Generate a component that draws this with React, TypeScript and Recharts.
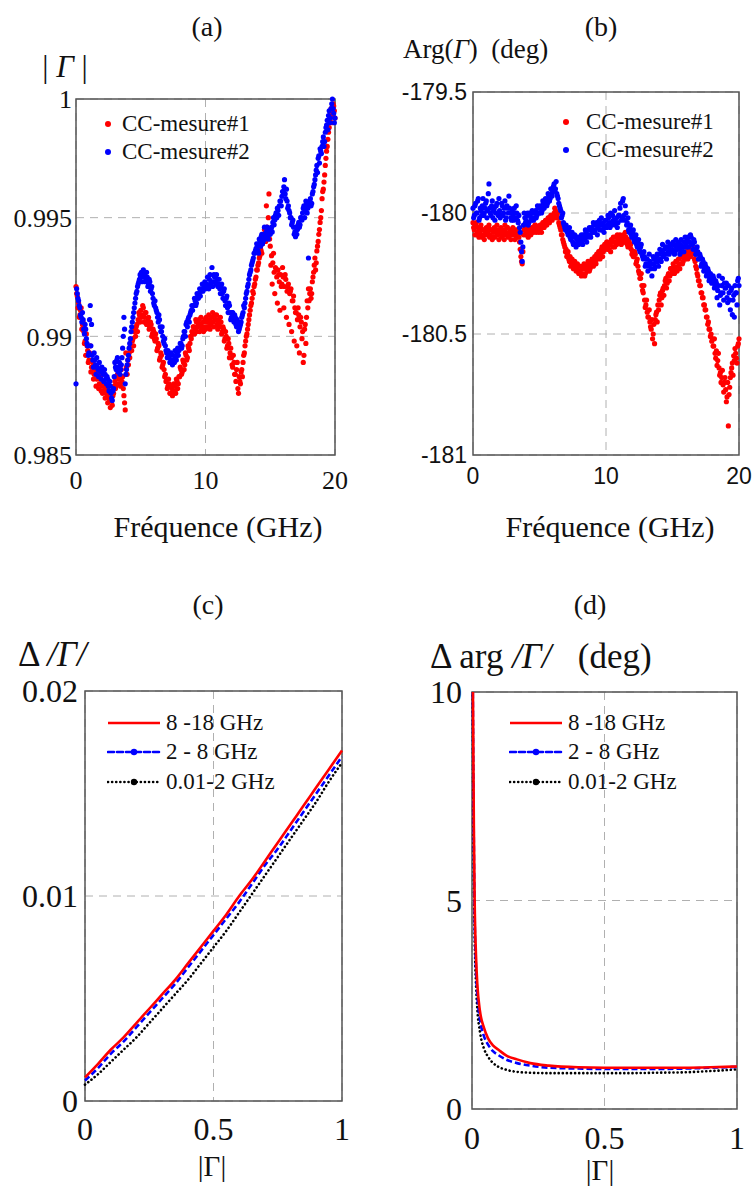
import React from 'react';
import {
  ScatterChart,
  Scatter,
  LineChart,
  Line,
  XAxis,
  YAxis,
  CartesianGrid,
  ReferenceArea,
} from 'recharts';

const SERIF = '"Liberation Serif", "DejaVu Serif", serif';
const SANS = '"Liberation Sans", Arial, sans-serif';

// (a) |Γ| mesuré, un point tous les 0.1 GHz (0 -> 20 GHz)
const magMesure1 = [
  0.9921, 0.9917, 0.9914, 0.9909, 0.9912, 0.9905, 0.9902, 0.9898, 0.9901, 0.9894,
  0.9890, 0.9896, 0.9887, 0.9889, 0.9884, 0.9887, 0.9882, 0.9885, 0.9880, 0.9883,
  0.9879, 0.9881, 0.9877, 0.9878, 0.9875, 0.9877, 0.9873, 0.9874, 0.9871, 0.9876,
  0.9881, 0.9879, 0.9884, 0.9882, 0.9880, 0.9886, 0.9883, 0.9875, 0.9869, 0.9887,
  0.9890, 0.9893, 0.9896, 0.9894, 0.9899, 0.9902, 0.9900, 0.9905, 0.9907, 0.9909,
  0.9911, 0.9909, 0.9912, 0.9908, 0.9910, 0.9906, 0.9908, 0.9904, 0.9905, 0.9901,
  0.9902, 0.9898, 0.9899, 0.9895, 0.9896, 0.9891, 0.9892, 0.9888, 0.9886, 0.9884,
  0.9882, 0.9879, 0.9880, 0.9876, 0.9878, 0.9877, 0.9879, 0.9876, 0.9881, 0.9880,
  0.9883, 0.9886, 0.9885, 0.9889, 0.9888, 0.9892, 0.9891, 0.9895, 0.9897, 0.9899,
  0.9901, 0.9904, 0.9903, 0.9906, 0.9904, 0.9907, 0.9905, 0.9903, 0.9906, 0.9904,
  0.9903, 0.9906, 0.9904, 0.9907, 0.9905, 0.9908, 0.9906, 0.9909, 0.9907, 0.9905,
  0.9907, 0.9904, 0.9906, 0.9902, 0.9903, 0.9899, 0.9900, 0.9896, 0.9897, 0.9893,
  0.9891, 0.9887, 0.9889, 0.9884, 0.9886, 0.9878, 0.9883, 0.9880, 0.9886, 0.9889,
  0.9893, 0.9898, 0.9901, 0.9905, 0.9909, 0.9913, 0.9916, 0.9918, 0.9922, 0.9925,
  0.9928, 0.9931, 0.9934, 0.9936, 0.9939, 0.9941, 0.9943, 0.9955, 0.9944, 0.9960,
  0.9938, 0.9934, 0.9931, 0.9927, 0.9929, 0.9925, 0.9928, 0.9923, 0.9926, 0.9922,
  0.9925, 0.9921, 0.9924, 0.9919, 0.9922, 0.9918, 0.9920, 0.9915, 0.9917, 0.9912,
  0.9910, 0.9907, 0.9909, 0.9904, 0.9906, 0.9902, 0.9892, 0.9905, 0.9908, 0.9912,
  0.9915, 0.9920, 0.9918, 0.9925, 0.9930, 0.9928, 0.9936, 0.9940, 0.9945, 0.9950,
  0.9958, 0.9962, 0.9968, 0.9975, 0.9980, 0.9986, 0.9991, 0.9996, 0.9993, 0.9997,
  0.9992,
];

// deuxième passage, décalé de 0.05 GHz (0.05 -> 19.95 GHz)
const magMesure1b = [
  0.9918, 0.9912, 0.9908, 0.9911, 0.9903, 0.9906, 0.9897, 0.9892, 0.9896, 0.9889,
  0.9893, 0.9885, 0.9890, 0.9882, 0.9886, 0.9879, 0.9884, 0.9878, 0.9882, 0.9877,
  0.9876, 0.9879, 0.9874, 0.9876, 0.9872, 0.9874, 0.9870, 0.9873, 0.9875, 0.9879,
  0.9878, 0.9883, 0.9880, 0.9884, 0.9879, 0.9881, 0.9878, 0.9872, 0.9893, 0.9884,
  0.9888, 0.9891, 0.9894, 0.9898, 0.9896, 0.9903, 0.9904, 0.9902, 0.9910, 0.9906,
  0.9908, 0.9913, 0.9906, 0.9910, 0.9905, 0.9907, 0.9903, 0.9906, 0.9900, 0.9903,
  0.9899, 0.9901, 0.9894, 0.9897, 0.9890, 0.9893, 0.9887, 0.9889, 0.9883, 0.9881,
  0.9878, 0.9882, 0.9876, 0.9879, 0.9875, 0.9880, 0.9877, 0.9882, 0.9878, 0.9883,
  0.9887, 0.9884, 0.9890, 0.9886, 0.9893, 0.9890, 0.9896, 0.9894, 0.9900, 0.9902,
  0.9904, 0.9901, 0.9907, 0.9902, 0.9905, 0.9902, 0.9908, 0.9904, 0.9902, 0.9907,
  0.9908, 0.9904, 0.9909, 0.9903, 0.9906, 0.9910, 0.9904, 0.9907, 0.9909, 0.9903,
  0.9905, 0.9908, 0.9901, 0.9904, 0.9898, 0.9902, 0.9895, 0.9899, 0.9891, 0.9895,
  0.9888, 0.9892, 0.9884, 0.9881, 0.9889, 0.9876, 0.9881, 0.9885, 0.9883, 0.9892,
  0.9896, 0.9900, 0.9903, 0.9907, 0.9911, 0.9914, 0.9919, 0.9921, 0.9924, 0.9928,
  0.9930, 0.9933, 0.9937, 0.9935, 0.9942, 0.9945, 0.9940, 0.9946, 0.9950, 0.9941,
  0.9930, 0.9922, 0.9935, 0.9918, 0.9928, 0.9914, 0.9926, 0.9911, 0.9921, 0.9929,
  0.9912, 0.9926, 0.9908, 0.9921, 0.9905, 0.9919, 0.9902, 0.9915, 0.9898, 0.9910,
  0.9896, 0.9912, 0.9893, 0.9908, 0.9899, 0.9889, 0.9903, 0.9897, 0.9915, 0.9920,
  0.9918, 0.9916, 0.9923, 0.9927, 0.9933, 0.9931, 0.9938, 0.9943, 0.9948, 0.9953,
  0.9961, 0.9965, 0.9972, 0.9978, 0.9983, 0.9988, 0.9994, 0.9990, 0.9998, 0.9995,
];

const magMesure2 = [
  0.9880, 0.9918, 0.9915, 0.9912, 0.9908, 0.9910, 0.9903, 0.9905, 0.9899, 0.9896,
  0.9893, 0.9913, 0.9905, 0.9890, 0.9893, 0.9888, 0.9891, 0.9886, 0.9889, 0.9885,
  0.9887, 0.9884, 0.9886, 0.9882, 0.9883, 0.9879, 0.9881, 0.9876, 0.9873, 0.9878,
  0.9889, 0.9886, 0.9891, 0.9887, 0.9884, 0.9888, 0.9895, 0.9908, 0.9880, 0.9886,
  0.9890, 0.9895, 0.9899, 0.9904, 0.9908, 0.9912, 0.9916, 0.9919, 0.9922, 0.9924,
  0.9925, 0.9923, 0.9928, 0.9926, 0.9924, 0.9925, 0.9922, 0.9923, 0.9920, 0.9918,
  0.9914, 0.9915, 0.9911, 0.9908, 0.9909, 0.9904, 0.9902, 0.9900, 0.9897, 0.9896,
  0.9893, 0.9894, 0.9891, 0.9889, 0.9890, 0.9892, 0.9889, 0.9891, 0.9893, 0.9892,
  0.9895, 0.9897, 0.9896, 0.9900, 0.9902, 0.9905, 0.9904, 0.9908, 0.9909, 0.9911,
  0.9911, 0.9913, 0.9915, 0.9914, 0.9917, 0.9918, 0.9917, 0.9920, 0.9919, 0.9921,
  0.9920, 0.9922, 0.9921, 0.9924, 0.9922, 0.9929, 0.9923, 0.9925, 0.9922, 0.9924,
  0.9922, 0.9920, 0.9921, 0.9918, 0.9919, 0.9915, 0.9916, 0.9912, 0.9914, 0.9910,
  0.9908, 0.9910, 0.9906, 0.9908, 0.9904, 0.9906, 0.9903, 0.9905, 0.9908, 0.9910,
  0.9912, 0.9916, 0.9919, 0.9922, 0.9926, 0.9928, 0.9931, 0.9933, 0.9935, 0.9937,
  0.9938, 0.9935, 0.9940, 0.9942, 0.9939, 0.9943, 0.9941, 0.9944, 0.9942, 0.9945,
  0.9943, 0.9946, 0.9948, 0.9947, 0.9951, 0.9950, 0.9953, 0.9955, 0.9957, 0.9959,
  0.9961, 0.9966, 0.9958, 0.9957, 0.9955, 0.9952, 0.9950, 0.9948, 0.9946, 0.9944,
  0.9946, 0.9945, 0.9948, 0.9947, 0.9950, 0.9952, 0.9955, 0.9953, 0.9956, 0.9954,
  0.9955, 0.9958, 0.9956, 0.9961, 0.9964, 0.9968, 0.9972, 0.9975, 0.9973, 0.9978,
  0.9980, 0.9984, 0.9982, 0.9988, 0.9991, 0.9993, 0.9990, 0.9996, 1.0000, 0.9994,
  0.9992,
];

const magMesure2b = [
  0.9920, 0.9916, 0.9913, 0.9909, 0.9906, 0.9907, 0.9901, 0.9903, 0.9897, 0.9892,
  0.9907, 0.9896, 0.9892, 0.9887, 0.9890, 0.9884, 0.9887, 0.9883, 0.9886, 0.9882,
  0.9885, 0.9881, 0.9884, 0.9880, 0.9882, 0.9877, 0.9879, 0.9874, 0.9877, 0.9883,
  0.9887, 0.9890, 0.9885, 0.9889, 0.9886, 0.9891, 0.9900, 0.9903, 0.9884, 0.9888,
  0.9892, 0.9897, 0.9902, 0.9906, 0.9910, 0.9914, 0.9918, 0.9921, 0.9923, 0.9926,
  0.9927, 0.9925, 0.9926, 0.9923, 0.9927, 0.9921, 0.9924, 0.9919, 0.9921, 0.9916,
  0.9913, 0.9912, 0.9910, 0.9906, 0.9907, 0.9902, 0.9904, 0.9898, 0.9899, 0.9894,
  0.9891, 0.9892, 0.9889, 0.9893, 0.9888, 0.9890, 0.9894, 0.9890, 0.9895, 0.9894,
  0.9897, 0.9895, 0.9899, 0.9902, 0.9900, 0.9906, 0.9907, 0.9906, 0.9910, 0.9913,
  0.9913, 0.9916, 0.9913, 0.9918, 0.9916, 0.9920, 0.9919, 0.9922, 0.9920, 0.9923,
  0.9922, 0.9925, 0.9920, 0.9926, 0.9923, 0.9921, 0.9926, 0.9923, 0.9926, 0.9921,
  0.9924, 0.9918, 0.9922, 0.9916, 0.9920, 0.9913, 0.9917, 0.9910, 0.9913, 0.9907,
  0.9910, 0.9907, 0.9909, 0.9905, 0.9907, 0.9902, 0.9904, 0.9906, 0.9909, 0.9913,
  0.9914, 0.9918, 0.9921, 0.9924, 0.9927, 0.9930, 0.9932, 0.9935, 0.9936, 0.9939,
  0.9936, 0.9941, 0.9938, 0.9943, 0.9940, 0.9946, 0.9943, 0.9946, 0.9941, 0.9944,
  0.9945, 0.9944, 0.9950, 0.9949, 0.9952, 0.9954, 0.9951, 0.9957, 0.9955, 0.9961,
  0.9963, 0.9960, 0.9962, 0.9954, 0.9953, 0.9950, 0.9947, 0.9949, 0.9943, 0.9942,
  0.9943, 0.9947, 0.9946, 0.9950, 0.9949, 0.9954, 0.9950, 0.9957, 0.9952, 0.9933,
  0.9957, 0.9955, 0.9960, 0.9963, 0.9966, 0.9970, 0.9969, 0.9976, 0.9979, 0.9977,
  0.9982, 0.9980, 0.9986, 0.9989, 0.9987, 0.9995, 0.9992, 0.9998, 0.9996, 0.9990,
];

// (b) Arg(Γ) en degrés, mêmes grilles de fréquences
const argMesure1 = [
  -180.04, -180.07, -180.05, -180.09, -180.06, -180.08, -180.05, -180.10, -180.07, -180.09,
  -180.06, -180.08, -180.05, -180.09, -180.07, -180.10, -180.06, -180.08, -180.05, -180.07,
  -180.08, -180.06, -180.09, -180.07, -180.05, -180.08, -180.06, -180.09, -180.07, -180.08,
  -180.06, -180.09, -180.07, -180.10, -180.08, -180.12, -180.18, -180.21, -180.09, -180.06,
  -180.08, -180.06, -180.09, -180.07, -180.08, -180.06, -180.07, -180.05, -180.07, -180.06,
  -180.07, -180.05, -180.06, -180.04, -180.05, -180.03, -180.04, -180.02, -180.03, -180.01,
  -180.02, -180.00, -179.99, -180.01, -180.02, -180.05, -180.07, -180.09, -180.12, -180.14,
  -180.15, -180.17, -180.19, -180.18, -180.21, -180.20, -180.22, -180.21, -180.23, -180.22,
  -180.24, -180.22, -180.25, -180.23, -180.26, -180.22, -180.24, -180.21, -180.23, -180.20,
  -180.21, -180.19, -180.20, -180.17, -180.18, -180.16, -180.17, -180.14, -180.16, -180.13,
  -180.14, -180.12, -180.15, -180.13, -180.11, -180.14, -180.12, -180.10, -180.13, -180.11,
  -180.12, -180.10, -180.11, -180.09, -180.12, -180.10, -180.13, -180.11, -180.14, -180.15,
  -180.16, -180.18, -180.17, -180.20, -180.22, -180.25, -180.27, -180.30, -180.33, -180.36,
  -180.38, -180.41, -180.43, -180.45, -180.48, -180.52, -180.46, -180.44, -180.41, -180.38,
  -180.36, -180.33, -180.35, -180.31, -180.30, -180.27, -180.29, -180.25, -180.26, -180.23,
  -180.24, -180.22, -180.23, -180.20, -180.22, -180.19, -180.21, -180.18, -180.20, -180.17,
  -180.18, -180.16, -180.17, -180.15, -180.16, -180.14, -180.17, -180.20, -180.23, -180.26,
  -180.28, -180.30, -180.33, -180.35, -180.38, -180.40, -180.43, -180.45, -180.48, -180.50,
  -180.52, -180.55, -180.58, -180.57, -180.61, -180.64, -180.66, -180.68, -180.71, -180.70,
  -180.73, -180.76, -180.88, -180.72, -180.66, -180.62, -180.59, -180.56, -180.60, -180.55,
  -180.52,
];

const argMesure1b = [
  -180.06, -180.09, -180.04, -180.08, -180.10, -180.06, -180.09, -180.07, -180.11, -180.08,
  -180.09, -180.06, -180.10, -180.07, -180.11, -180.08, -180.10, -180.07, -180.09, -180.11,
  -180.07, -180.10, -180.08, -180.11, -180.09, -180.06, -180.10, -180.08, -180.11, -180.09,
  -180.08, -180.11, -180.09, -180.07, -180.10, -180.15, -180.20, -180.16, -180.07, -180.09,
  -180.07, -180.10, -180.08, -180.09, -180.06, -180.08, -180.05, -180.08, -180.06, -180.08,
  -180.05, -180.08, -180.04, -180.06, -180.03, -180.05, -180.02, -180.04, -180.01, -180.03,
  -180.01, -179.98, -180.02, -180.00, -180.04, -180.06, -180.09, -180.11, -180.13, -180.16,
  -180.18, -180.16, -180.20, -180.22, -180.19, -180.23, -180.20, -180.24, -180.21, -180.25,
  -180.22, -180.26, -180.23, -180.21, -180.25, -180.23, -180.20, -180.24, -180.22, -180.19,
  -180.22, -180.18, -180.21, -180.19, -180.16, -180.19, -180.15, -180.18, -180.14, -180.15,
  -180.12, -180.15, -180.13, -180.16, -180.12, -180.10, -180.14, -180.12, -180.09, -180.12,
  -180.09, -180.13, -180.10, -180.12, -180.08, -180.11, -180.14, -180.12, -180.13, -180.17,
  -180.18, -180.16, -180.21, -180.19, -180.24, -180.27, -180.25, -180.32, -180.30, -180.39,
  -180.36, -180.43, -180.40, -180.47, -180.44, -180.50, -180.54, -180.42, -180.45, -180.40,
  -180.34, -180.38, -180.32, -180.34, -180.28, -180.31, -180.26, -180.28, -180.23, -180.25,
  -180.21, -180.25, -180.20, -180.24, -180.19, -180.23, -180.18, -180.21, -180.17, -180.19,
  -180.16, -180.19, -180.15, -180.18, -180.14, -180.16, -180.19, -180.22, -180.25, -180.28,
  -180.30, -180.33, -180.35, -180.38, -180.40, -180.43, -180.46, -180.48, -180.51, -180.53,
  -180.55, -180.52, -180.60, -180.63, -180.58, -180.67, -180.70, -180.65, -180.74, -180.68,
  -180.78, -180.70, -180.75, -180.68, -180.64, -180.67, -180.61, -180.58, -180.62, -180.54,
];

const argMesure2 = [
  -179.98, -180.01, -179.96, -180.00, -179.94, -180.02, -179.99, -179.97, -180.01, -179.98,
  -179.95, -179.99, -179.88, -180.00, -179.97, -180.02, -179.98, -180.00, -179.96, -180.01,
  -179.99, -180.01, -179.97, -180.00, -179.95, -180.02, -179.98, -179.93, -180.00, -180.03,
  -180.01, -179.98, -180.02, -180.00, -180.04, -180.06, -180.12, -180.20, -180.05, -180.02,
  -180.03, -180.00, -180.04, -180.01, -180.03, -180.00, -180.02, -179.99, -180.01, -179.98,
  -180.00, -179.98, -179.99, -179.96, -179.97, -179.95, -179.96, -179.93, -179.94, -179.92,
  -179.91, -179.88, -179.90, -179.92, -179.94, -179.97, -179.99, -180.01, -180.04, -180.06,
  -180.05, -180.08, -180.07, -180.10, -180.09, -180.12, -180.10, -180.13, -180.11, -180.12,
  -180.10, -180.12, -180.11, -180.09, -180.11, -180.08, -180.10, -180.07, -180.09, -180.06,
  -180.08, -180.05, -180.07, -180.04, -180.06, -180.03, -180.05, -180.07, -180.04, -180.06,
  -180.03, -180.05, -180.02, -180.06, -180.04, -180.01, -180.03, -180.05, -180.02, -180.04,
  -180.01, -179.96, -180.02, -179.94, -180.03, -180.00, -180.04, -180.07, -180.06, -180.09,
  -180.08, -180.11, -180.10, -180.13, -180.12, -180.15, -180.14, -180.17, -180.19, -180.18,
  -180.21, -180.19, -180.22, -180.20, -180.23, -180.21, -180.19, -180.22, -180.18, -180.20,
  -180.17, -180.19, -180.16, -180.18, -180.15, -180.17, -180.14, -180.16, -180.15, -180.13,
  -180.15, -180.13, -180.16, -180.14, -180.12, -180.15, -180.13, -180.16, -180.14, -180.12,
  -180.13, -180.11, -180.14, -180.12, -180.10, -180.13, -180.11, -180.15, -180.17, -180.16,
  -180.19, -180.18, -180.21, -180.20, -180.23, -180.22, -180.25, -180.24, -180.27, -180.26,
  -180.28, -180.27, -180.30, -180.29, -180.32, -180.26, -180.34, -180.30, -180.33, -180.29,
  -180.31, -180.35, -180.30, -180.36, -180.32, -180.42, -180.34, -180.30, -180.33, -180.28,
  -180.30,
];

const argMesure2b = [
  -180.02, -179.97, -180.00, -179.95, -180.03, -179.98, -180.01, -179.94, -180.00, -179.96,
  -180.02, -179.92, -179.98, -180.01, -179.95, -179.99, -180.03, -179.97, -180.00, -179.94,
  -180.02, -179.96, -180.01, -179.98, -180.03, -179.97, -180.00, -179.98, -180.02, -179.99,
  -180.03, -180.00, -179.97, -180.03, -180.01, -180.08, -180.16, -180.14, -180.00, -180.04,
  -180.01, -180.05, -180.00, -180.02, -179.99, -180.03, -180.00, -180.02, -179.97, -180.00,
  -179.97, -180.00, -179.95, -179.98, -179.94, -179.97, -179.92, -179.95, -179.90, -179.93,
  -179.89, -179.91, -179.87, -179.93, -179.96, -179.98, -180.02, -180.00, -180.05, -180.07,
  -180.07, -180.09, -180.06, -180.11, -180.08, -180.13, -180.09, -180.14, -180.10, -180.13,
  -180.11, -180.09, -180.13, -180.10, -180.07, -180.12, -180.09, -180.06, -180.10, -180.07,
  -180.04, -180.08, -180.05, -180.09, -180.04, -180.07, -180.02, -180.05, -180.08, -180.03,
  -180.06, -180.01, -180.04, -180.00, -180.05, -180.03, -179.99, -180.04, -180.06, -180.01,
  -179.98, -180.03, -179.95, -180.01, -179.97, -180.05, -180.02, -180.08, -180.05, -180.10,
  -180.07, -180.12, -180.09, -180.14, -180.11, -180.16, -180.13, -180.18, -180.16, -180.22,
  -180.19, -180.24, -180.17, -180.21, -180.26, -180.18, -180.23, -180.20, -180.17, -180.22,
  -180.15, -180.20, -180.13, -180.17, -180.14, -180.19, -180.12, -180.17, -180.13, -180.16,
  -180.12, -180.17, -180.11, -180.15, -180.13, -180.17, -180.11, -180.14, -180.16, -180.10,
  -180.14, -180.10, -180.12, -180.09, -180.13, -180.15, -180.12, -180.17, -180.14, -180.19,
  -180.17, -180.22, -180.19, -180.24, -180.21, -180.26, -180.23, -180.28, -180.25, -180.29,
  -180.26, -180.31, -180.28, -180.35, -180.30, -180.38, -180.33, -180.27, -180.36, -180.31,
  -180.29, -180.37, -180.33, -180.40, -180.31, -180.36, -180.43, -180.33, -180.38, -180.27,
];

const freqGHz = magMesure1.map((_, i) => i / 10);
const freqGHzB = magMesure1b.map((_, i) => i / 10 + 0.05);

// (c) Δ|Γ| en fonction de |Γ|
const gammaC = [0, 0.05, 0.1, 0.15, 0.2, 0.25, 0.3, 0.35, 0.4, 0.45, 0.5, 0.55, 0.6, 0.65, 0.7, 0.75, 0.8, 0.85, 0.9, 0.95, 1];
const dMag8to18 = [0.00115, 0.0018, 0.0025, 0.0031, 0.0038, 0.0045, 0.0052, 0.0059, 0.0067, 0.0075, 0.0083, 0.0091, 0.0100, 0.0108, 0.0117, 0.0126, 0.0135, 0.0144, 0.0153, 0.0162, 0.0171];
const dMag2to8 = [0.0010, 0.0016, 0.0023, 0.0029, 0.0036, 0.0043, 0.0050, 0.0057, 0.0065, 0.0073, 0.0081, 0.0089, 0.0097, 0.0106, 0.0115, 0.0123, 0.0132, 0.0141, 0.0150, 0.0159, 0.0168];
const dMag001to2 = [0.0008, 0.0013, 0.0019, 0.0025, 0.0031, 0.0038, 0.0045, 0.0052, 0.0059, 0.0067, 0.0075, 0.0083, 0.0092, 0.0101, 0.0110, 0.0119, 0.0128, 0.0137, 0.0146, 0.0156, 0.0165];

// (d) Δarg en degrés en fonction de |Γ|
const gammaD = [0.002, 0.004, 0.007, 0.01, 0.015, 0.02, 0.03, 0.045, 0.06, 0.08, 0.1, 0.13, 0.17, 0.22, 0.29, 0.4, 0.5, 0.6, 0.7, 0.8, 0.9, 1];
const dArg8to18 = [12, 9.6, 6.8, 5.0, 3.7, 3.0, 2.35, 1.95, 1.7, 1.52, 1.42, 1.28, 1.19, 1.10, 1.04, 1.0, 0.99, 0.99, 0.99, 0.99, 1.0, 1.02];
const dArg2to8 = [11.5, 9.0, 6.3, 4.6, 3.4, 2.75, 2.15, 1.75, 1.55, 1.38, 1.29, 1.18, 1.10, 1.04, 0.99, 0.97, 0.96, 0.96, 0.96, 0.97, 0.99, 1.01];
const dArg001to2 = [11, 8.2, 5.6, 4.1, 3.0, 2.4, 1.85, 1.45, 1.26, 1.10, 1.01, 0.94, 0.89, 0.87, 0.86, 0.86, 0.86, 0.86, 0.87, 0.88, 0.91, 0.95];

const pts = (xs: number[], ys: number[]) => xs.map((f, i) => ({ f, v: ys[i] }));
const magData1 = [...pts(freqGHz, magMesure1), ...pts(freqGHzB, magMesure1b)];
const magData2 = [...pts(freqGHz, magMesure2), ...pts(freqGHzB, magMesure2b)];
const argData1 = [...pts(freqGHz, argMesure1), ...pts(freqGHzB, argMesure1b)];
const argData2 = [...pts(freqGHz, argMesure2), ...pts(freqGHzB, argMesure2b)];
const dMagRows = gammaC.map((g, i) => ({ g, r: dMag8to18[i], b: dMag2to8[i], k: dMag001to2[i] }));
const dArgRows = gammaD.map((g, i) => ({ g, r: dArg8to18[i], b: dArg2to8[i], k: dArg001to2[i] }));

const RED = '#ff0000';
const BLUE = '#0000ff';
const GRID = '#b0b0b0';
const FRAME = '#555';

const dot = (color: string) => (p: any) => <circle cx={p.cx} cy={p.cy} r={2.6} fill={color} />;

const Txt = ({ x, y, size, font = SERIF, children }: any) => (
  <div
    style={{
      position: 'absolute',
      left: x,
      top: y,
      transform: 'translate(-50%, -50%)',
      fontFamily: font,
      fontSize: size,
      lineHeight: 1,
      whiteSpace: 'nowrap',
      color: '#111',
    }}
  >
    {children}
  </div>
);

const LeftTxt = ({ x, y, size, children }: any) => (
  <div
    style={{
      position: 'absolute',
      left: x,
      top: y,
      transform: 'translateY(-50%)',
      fontFamily: SERIF,
      fontSize: size,
      lineHeight: 1.1,
      whiteSpace: 'nowrap',
      color: '#111',
    }}
  >
    {children}
  </div>
);

const DotLegend = ({ left, top, gap }: any) => (
  <div style={{ position: 'absolute', left, top, fontFamily: SERIF, fontSize: 23, color: '#111' }}>
    {[
      { label: 'CC-mesure#1', color: RED },
      { label: 'CC-mesure#2', color: BLUE },
    ].map((it) => (
      <div key={it.label} style={{ display: 'flex', alignItems: 'center', height: 28 }}>
        <span style={{ width: 6, height: 6, borderRadius: 3, background: it.color, marginRight: gap }} />
        <span>{it.label}</span>
      </div>
    ))}
  </div>
);

const lineItems = [
  { label: '8 -18 GHz', color: RED, dash: undefined, marker: false },
  { label: '2 - 8 GHz', color: BLUE, dash: '6 3', marker: true },
  { label: '0.01-2 GHz', color: '#000', dash: '0.1 4', marker: true },
];

const LineLegend = ({ left, top }: any) => (
  <div style={{ position: 'absolute', left, top, fontFamily: SERIF, fontSize: 23, color: '#111' }}>
    {lineItems.map((it) => (
      <div key={it.label} style={{ display: 'flex', alignItems: 'center', height: 29.5 }}>
        <svg width={54} height={10} style={{ marginRight: 5 }}>
          <line x1={1} y1={5} x2={53} y2={5} stroke={it.color} strokeWidth={2.6} strokeDasharray={it.dash} strokeLinecap={it.dash ? 'round' : 'butt'} />
          {it.marker && <circle cx={27} cy={5} r={3.2} fill={it.color} />}
        </svg>
        <span>{it.label}</span>
      </div>
    ))}
  </div>
);

const serifTick = (size: number) => ({ fill: '#111', fontSize: size, fontFamily: SERIF });
const sansTick = (size: number) => ({ fill: '#111', fontSize: size, fontFamily: SANS });

export default function App() {
  return (
    <div style={{ position: 'absolute', left: 0, top: 0, width: 755, height: 1186, background: '#fff', overflow: 'hidden' }}>
      {/* (a) */}
      <div style={{ position: 'absolute', left: 0, top: 0 }}>
        <ScatterChart width={380} height={560} margin={{ top: 99, right: 45, bottom: 75, left: 16 }}>
          <CartesianGrid stroke={GRID} strokeDasharray="8 6" />
          <XAxis type="number" dataKey="f" domain={[0, 20]} ticks={[0, 10, 20]} height={30}
            axisLine={false} tickLine={false} tickSize={0} tickMargin={16} tick={serifTick(26)} />
          <YAxis type="number" dataKey="v" domain={[0.985, 1]} ticks={[0.985, 0.99, 0.995, 1]} width={60}
            axisLine={false} tickLine={false} tickSize={0} tickMargin={4} tick={serifTick(26)} />
          <Scatter data={magData1} shape={dot(RED)} isAnimationActive={false} />
          <Scatter data={magData2} shape={dot(BLUE)} isAnimationActive={false} />
          <ReferenceArea x1={0} x2={20} y1={0.985} y2={1} fill="none" stroke={FRAME} strokeWidth={1.5} />
        </ScatterChart>
      </div>

      {/* (b) */}
      <div style={{ position: 'absolute', left: 380, top: 0 }}>
        <ScatterChart width={375} height={560} margin={{ top: 92, right: 16, bottom: 75, left: 33 }}>
          <CartesianGrid stroke={GRID} strokeDasharray="8 6" />
          <XAxis type="number" dataKey="f" domain={[0, 20]} ticks={[0, 10, 20]} height={30}
            axisLine={false} tickLine={false} tickSize={0} tickMargin={13} tick={sansTick(23)} />
          <YAxis type="number" dataKey="v" domain={[-181, -179.5]} ticks={[-181, -180.5, -180, -179.5]} width={60}
            axisLine={false} tickLine={false} tickSize={0} tickMargin={6} tick={sansTick(23)} />
          <Scatter data={argData1} shape={dot(RED)} isAnimationActive={false} />
          <Scatter data={argData2} shape={dot(BLUE)} isAnimationActive={false} />
          <ReferenceArea x1={0} x2={20} y1={-181} y2={-179.5} fill="none" stroke={FRAME} strokeWidth={1.5} />
        </ScatterChart>
      </div>

      {/* (c) */}
      <div style={{ position: 'absolute', left: 0, top: 580 }}>
        <LineChart width={380} height={606} data={dMagRows} margin={{ top: 111, right: 38, bottom: 55, left: 25 }}>
          <CartesianGrid stroke={GRID} strokeDasharray="8 6" />
          <XAxis type="number" dataKey="g" domain={[0, 1]} ticks={[0, 0.5, 1]} height={30}
            axisLine={false} tickLine={false} tickSize={0} tickMargin={16} tick={serifTick(32)} />
          <YAxis type="number" domain={[0, 0.02]} ticks={[0, 0.01, 0.02]} width={60}
            axisLine={false} tickLine={false} tickSize={0} tickMargin={7} tick={serifTick(32)} />
          <Line dataKey="k" type="monotone" stroke="#000" strokeWidth={2.6} strokeDasharray="0.1 4" strokeLinecap="round" dot={false} isAnimationActive={false} />
          <Line dataKey="b" type="monotone" stroke={BLUE} strokeWidth={2.6} strokeDasharray="6 3" dot={false} isAnimationActive={false} />
          <Line dataKey="r" type="monotone" stroke={RED} strokeWidth={2.6} dot={false} isAnimationActive={false} />
          <ReferenceArea x1={0} x2={1} y1={0} y2={0.02} fill="none" stroke={FRAME} strokeWidth={1.5} />
        </LineChart>
      </div>

      {/* (d) */}
      <div style={{ position: 'absolute', left: 380, top: 580 }}>
        <LineChart width={375} height={606} data={dArgRows} margin={{ top: 112, right: 18, bottom: 47, left: 32 }}>
          <CartesianGrid stroke={GRID} strokeDasharray="8 6" />
          <XAxis type="number" dataKey="g" domain={[0, 1]} ticks={[0, 0.5, 1]} height={30}
            axisLine={false} tickLine={false} tickSize={0} tickMargin={17} tick={serifTick(32)} />
          <YAxis type="number" domain={[0, 10]} ticks={[0, 5, 10]} width={60} allowDataOverflow
            axisLine={false} tickLine={false} tickSize={0} tickMargin={10} tick={serifTick(32)} />
          <Line dataKey="k" type="monotone" stroke="#000" strokeWidth={2.6} strokeDasharray="0.1 4" strokeLinecap="round" dot={false} isAnimationActive={false} />
          <Line dataKey="b" type="monotone" stroke={BLUE} strokeWidth={2.6} strokeDasharray="6 3" dot={false} isAnimationActive={false} />
          <Line dataKey="r" type="monotone" stroke={RED} strokeWidth={2.6} dot={false} isAnimationActive={false} />
          <ReferenceArea x1={0} x2={1} y1={0} y2={10} fill="none" stroke={FRAME} strokeWidth={1.5} />
        </LineChart>
      </div>

      {/* titres */}
      <Txt x={207} y={27} size={28}>(a)</Txt>
      <Txt x={601} y={27} size={28}>(b)</Txt>
      <Txt x={208} y={605} size={28}>(c)</Txt>
      <Txt x={590} y={605} size={28}>(d)</Txt>

      {/* libellés des axes */}
      <Txt x={65} y={66} size={31}>| <i>Γ</i> |</Txt>
      <LeftTxt x={403} y={50} size={27}>Arg(<i>Γ</i>)&nbsp; (deg)</LeftTxt>
      <LeftTxt x={18} y={655} size={35}>Δ <i>/Γ/</i></LeftTxt>
      <LeftTxt x={430} y={657} size={35}>Δ arg <i>/Γ/</i>&nbsp;&nbsp; (deg)</LeftTxt>
      <Txt x={218} y={527} size={30}>Fréquence (GHz)</Txt>
      <Txt x={610} y={527} size={30}>Fréquence (GHz)</Txt>
      <Txt x={212} y={1166} size={29}>|Γ|</Txt>
      <Txt x={600} y={1170} size={29}>|Γ|</Txt>

      {/* légendes */}
      <DotLegend left={105} top={110} gap={11} />
      <DotLegend left={563} top={108} gap={17} />
      <LineLegend left={107} top={708} />
      <LineLegend left={509} top={708} />
    </div>
  );
}
